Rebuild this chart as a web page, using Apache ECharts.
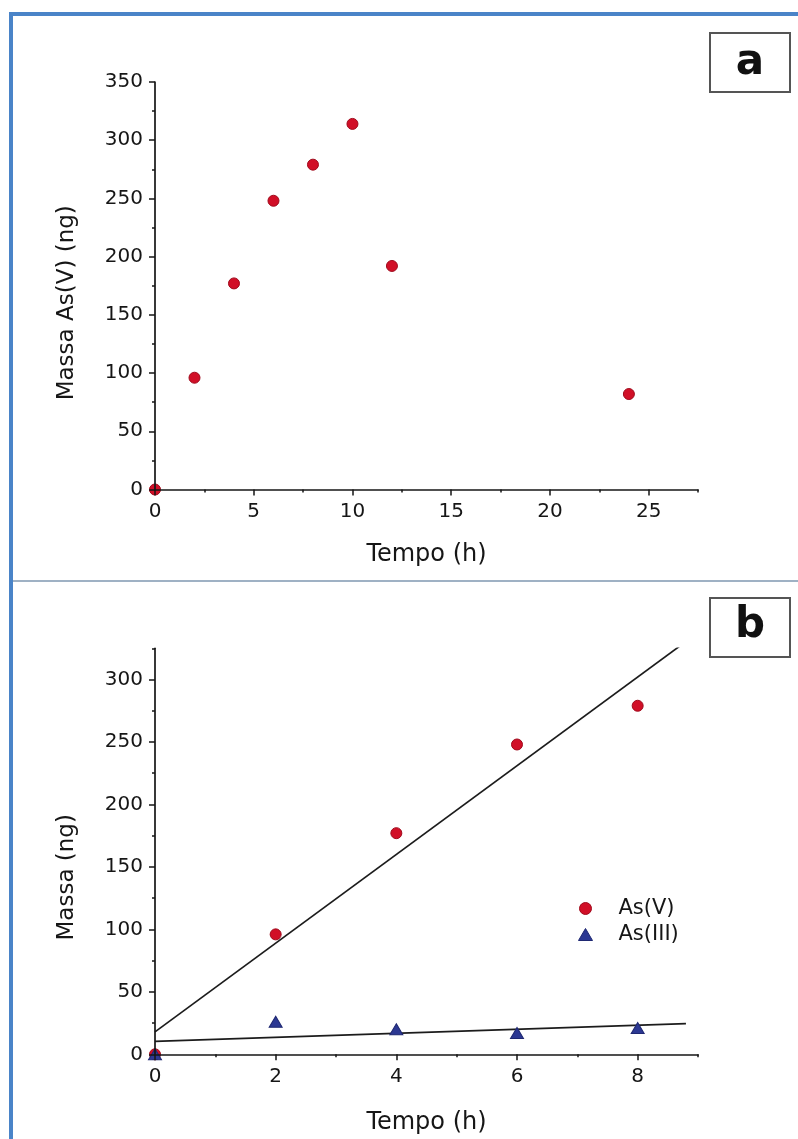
<!DOCTYPE html>
<html>
<head>
<meta charset="utf-8">
<script src="https://cdn.jsdelivr.net/npm/echarts@6/dist/echarts.min.js"></script>
<style>
  html, body { margin: 0; padding: 0; background: #ffffff; }
  #chart { width: 798px; height: 1139px; }
</style>
</head>
<body>
<div id="chart"></div>
<script>
// Panel a: As(V) mass over the full 24 h run
const timeA = [0, 2, 4, 6, 8, 10, 12, 24];
const massAsVA = [0, 96, 177, 248, 279, 314, 192, 82];

// Panel b: first 8 h, As(V) and As(III)
const timeB = [0, 2, 4, 6, 8];
const massAsVB = [0, 96, 177, 248, 279];
const massAsIIIB = [0, 26, 20, 17, 21];

// Straight-line fits drawn over panel b (end points)
const fitAsV = [[0, 18], [8.8, 330.4]];
const fitAsIII = [[0, 10.4], [8.8, 24.6]];

// Tick labels
const ticksAx = [0, 5, 10, 15, 20, 25];
const ticksAy = [0, 50, 100, 150, 200, 250, 300, 350];
const ticksBx = [0, 2, 4, 6, 8];
const ticksBy = [0, 50, 100, 150, 200, 250, 300];

const FONT = 'DejaVu Sans';
const INK = '#161616';
const RED = '#d10f27';
const BLUE = '#2c3893';

const pairs = (xs, ys) => xs.map((x, i) => [x, ys[i]]);

function mainAxis(gridIndex, min, max, interval, ticks, extra) {
  return Object.assign({
    type: 'value', gridIndex, min, max, interval, z: 3,
    axisLine: { show: true, onZero: false, lineStyle: { color: INK, width: 1.7 } },
    axisTick: { show: true, inside: false, length: 6, lineStyle: { color: INK, width: 1.5 }, customValues: ticks },
    axisLabel: { show: true, margin: 12, color: INK, fontFamily: FONT, fontSize: 20, customValues: ticks },
    splitLine: { show: false }
  }, extra);
}
function minorAxis(gridIndex, min, max, interval, position) {
  return {
    type: 'value', gridIndex, min, max, interval, position, z: 3,
    axisLine: { show: false, onZero: false },
    axisTick: { show: true, inside: false, length: 3, lineStyle: { color: INK, width: 1.5 } },
    axisLabel: { show: false },
    splitLine: { show: false }
  };
}

const yTitleStyle = { color: INK, fontFamily: FONT, fontSize: 23 };
const xTitleStyle = { color: INK, fontFamily: FONT, fontSize: 24 };
const dotStyle = { color: RED, borderColor: '#a00a1c', borderWidth: 1, opacity: 1 };
const triStyle = { color: BLUE, borderColor: '#1f2872', borderWidth: 1, opacity: 1 };

const option = {
  backgroundColor: '#ffffff',
  animation: false,
  grid: [
    { left: 155, top: 82, width: 543, height: 407.5 },
    { left: 155, top: 648.3, width: 543, height: 406 }
  ],
  xAxis: [
    mainAxis(0, 0, 27.5, 5, ticksAx, {
      position: 'bottom', name: 'Tempo (h)', nameLocation: 'middle', nameGap: 53, nameTextStyle: xTitleStyle
    }),
    minorAxis(0, 0, 27.5, 2.5, 'bottom'),
    mainAxis(1, 0, 9, 2, ticksBx, {
      position: 'bottom', name: 'Tempo (h)', nameLocation: 'middle', nameGap: 56, nameTextStyle: xTitleStyle
    }),
    minorAxis(1, 0, 9, 1, 'bottom')
  ],
  yAxis: [
    mainAxis(0, 0, 350, 50, ticksAy, {
      position: 'left', name: 'Massa As(V) (ng)', nameLocation: 'middle', nameGap: 76,
      nameTextStyle: Object.assign({ padding: [0, 34, 0, 0] }, yTitleStyle)
    }),
    minorAxis(0, 0, 350, 25, 'left'),
    mainAxis(1, 0, 325, 50, ticksBy, {
      position: 'left', name: 'Massa (ng)', nameLocation: 'middle', nameGap: 76,
      nameTextStyle: Object.assign({ padding: [0, 52, 0, 0] }, yTitleStyle)
    }),
    minorAxis(1, 0, 325, 25, 'left')
  ],
  legend: {
    orient: 'vertical', left: 573, top: 893, itemGap: 5,
    itemWidth: 14, itemHeight: 12,
    textStyle: { color: INK, fontFamily: FONT, fontSize: 21, padding: [0, 0, 0, 21] },
    data: [
      { name: 'As(V)', icon: 'circle', itemStyle: dotStyle },
      { name: 'As(III)', icon: 'triangle', itemStyle: triStyle }
    ],
    selectedMode: false
  },
  graphic: [
    // outer frame and panel separator
    { type: 'rect', z: -10, shape: { x: 11, y: 14, width: 820, height: 1160 },
      style: { fill: 'none', stroke: '#4a84c8', lineWidth: 4 } },
    { type: 'line', z: -10, shape: { x1: 13, y1: 581, x2: 798, y2: 581 },
      style: { stroke: '#9fb1c4', lineWidth: 2 } },
    // panel tags
    { type: 'rect', shape: { x: 710, y: 33, width: 80, height: 59 },
      style: { fill: '#ffffff', stroke: '#555555', lineWidth: 2 } },
    { type: 'text', x: 750, y: 63, style: { text: 'a', fill: '#111', font: 'bold 42px "DejaVu Sans"', align: 'center', verticalAlign: 'middle' } },
    { type: 'rect', shape: { x: 710, y: 598, width: 80, height: 59 },
      style: { fill: '#ffffff', stroke: '#555555', lineWidth: 2 } },
    { type: 'text', x: 750, y: 626, style: { text: 'b', fill: '#111', font: 'bold 42px "DejaVu Sans"', align: 'center', verticalAlign: 'middle' } }
  ],
  series: [
    { name: 'As(V)', type: 'scatter', xAxisIndex: 0, yAxisIndex: 0, z: 2,
      symbol: 'circle', symbolSize: 11, itemStyle: dotStyle,
      data: pairs(timeA, massAsVA) },
    { name: 'fit As(V)', type: 'line', xAxisIndex: 2, yAxisIndex: 2, z: 2,
      showSymbol: false, clip: true, silent: true,
      lineStyle: { color: '#1c1c1c', width: 1.7 }, data: fitAsV },
    { name: 'fit As(III)', type: 'line', xAxisIndex: 2, yAxisIndex: 2, z: 2,
      showSymbol: false, clip: true, silent: true,
      lineStyle: { color: '#1c1c1c', width: 1.7 }, data: fitAsIII },
    { name: 'As(V)', type: 'scatter', xAxisIndex: 2, yAxisIndex: 2, z: 2,
      symbol: 'circle', symbolSize: 11, itemStyle: dotStyle,
      data: pairs(timeB, massAsVB) },
    { name: 'As(III)', type: 'scatter', xAxisIndex: 2, yAxisIndex: 2, z: 2,
      symbol: 'triangle', symbolSize: [13, 11], itemStyle: triStyle,
      data: pairs(timeB, massAsIIIB) }
  ]
};

const chart = echarts.init(document.getElementById('chart'), null, { renderer: 'canvas' });
chart.setOption(option);
</script>
</body>
</html>
